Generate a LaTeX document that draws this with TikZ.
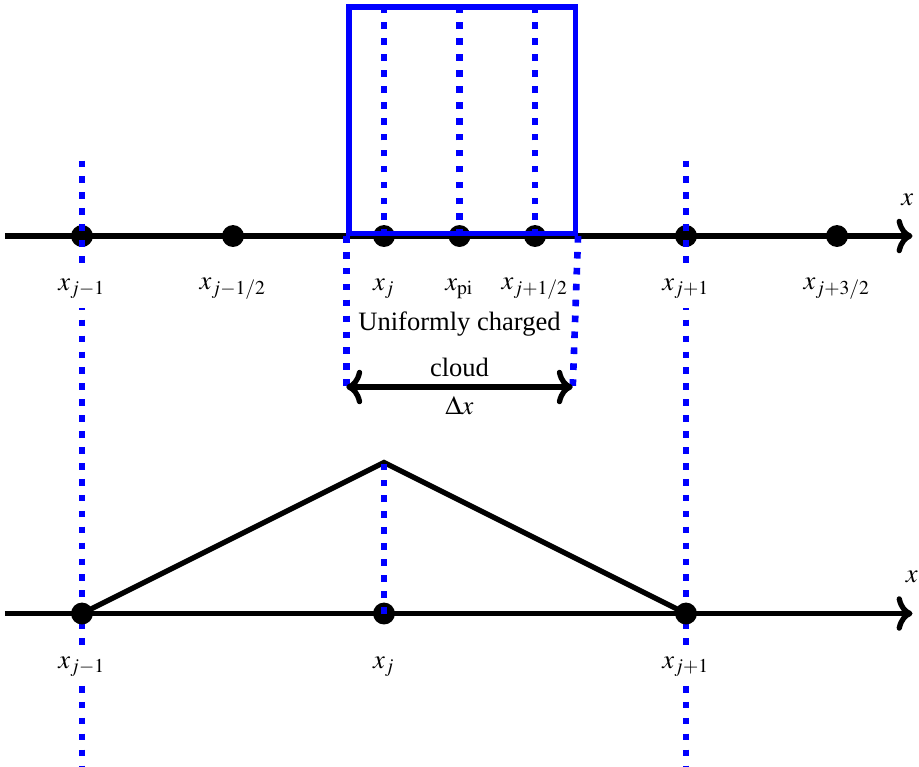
\documentclass[tikz,border=0pt]{standalone}
\usepackage{mathptmx}
\usepackage{fontspec}
\setmainfont{Liberation Serif}
\usetikzlibrary{arrows.meta}

\begin{document}
\begin{tikzpicture}[
    axisline/.style={line width=2pt, -{Computer Modern Rightarrow[length=6pt, width=13pt]}},
    gridline/.style={draw=blue, line width=2.5pt, dash pattern=on 2.5pt off 3.5pt},
    cloudbox/.style={draw=blue, line width=2pt, inner sep=0pt, anchor=south west,
      minimum width=3cm, minimum height=3cm},
    gridpoint/.style={circle, fill=black, inner sep=0pt, minimum size=0.29cm},
    pointlabel/.style={inner sep=1pt},
    gaplabel/.style={pointlabel, fill=white, inner sep=3.5pt}
  ]
    \useasboundingbox (-1.086,-7.02) rectangle (11.086,3.126);

    % upper axis: grid and particle cloud
    \coordinate (topstart) at (-1.02,0);
    \coordinate (topend) at (11,0);
    \draw[axisline] (topstart) -- (topend);
    \node[gridpoint] (jm1) at (0,0) {};
    \node[gridpoint] (jmh) at (2,0) {};
    \node[gridpoint] (j) at (4,0) {};
    \node[gridpoint] (pi) at (5,0) {};
    \node[gridpoint] (jph) at (6,0) {};
    \node[gridpoint] (jp1) at (8,0) {};
    \node[gridpoint] (jp3h) at (10,0) {};

    \node[cloudbox] (cloud) at (3.5,0) {};
    \draw[gridline] (j.center) -- (j.center |- cloud.north);
    \draw[gridline] (pi.center) -- (pi.center |- cloud.north);
    \draw[gridline] (jph.center) -- (jph.center |- cloud.north);

    \coordinate (cloudl) at (3.5,-2);
    \coordinate (cloudr) at (6.5,-2);
    \draw[gridline] (cloud.south west) -- (cloudl);
    \draw[gridline] (cloud.south east) -- (cloudr);
    \draw[line width=2pt, {Computer Modern Rightarrow[length=6pt, width=13pt]}-{Computer Modern Rightarrow[length=6pt, width=13pt]}]
      (cloudl) -- (cloudr);

    % long grid lines through both axes
    \coordinate (jm1top) at (0,1);
    \coordinate (jm1bot) at (0,-7.02);
    \coordinate (jp1top) at (8,1);
    \coordinate (jp1bot) at (8,-7.02);
    \draw[gridline] (jm1top) -- (jm1bot);
    \draw[gridline] (jp1top) -- (jp1bot);

    \node[gaplabel] (ljm1) at (0,-0.7) {$x_{j-1}$};
    \node[pointlabel] (ljmh) at (2,-0.7) {$x_{j-1/2}$};
    \node[pointlabel] (lj) at (4,-0.7) {$x_j$};
    \node[pointlabel] (lpi) at (5,-0.7) {$x_{\mathrm{pi}}$};
    \node[pointlabel] (ljph) at (6,-0.7) {$x_{j+1/2}$};
    \node[gaplabel] (ljp1) at (8,-0.7) {$x_{j+1}$};
    \node[pointlabel] (ljp3h) at (10,-0.7) {$x_{j+3/2}$};
    \node (topx) at (10.93,0.48) {$x$};

    \node (uniform) at (5,-1.17) {Uniformly charged};
    \node (cloudtxt) at (5,-1.74) {cloud};
    \node (width) at (5,-2.24) {$\Delta x$};

    % lower axis: weighting function
    \coordinate (botstart) at (-1.02,-5);
    \coordinate (botend) at (11,-5);
    \draw[axisline] (botstart) -- (botend);
    \node[gridpoint] (bjm1) at (0,-5) {};
    \node[gridpoint] (bj) at (4,-5) {};
    \node[gridpoint] (bjp1) at (8,-5) {};
    \coordinate (peak) at (4,-3);
    \draw[line width=2pt] (bjm1.center) -- (peak) -- (bjp1.center);
    \draw[gridline] (bj.center) -- (peak);

    \node[gaplabel] (lbjm1) at (0,-5.7) {$x_{j-1}$};
    \node[pointlabel] (lbj) at (4,-5.7) {$x_j$};
    \node[gaplabel] (lbjp1) at (8,-5.7) {$x_{j+1}$};
    \node (botx) at (10.99,-4.52) {$x$};
  \end{tikzpicture}
\end{document}
